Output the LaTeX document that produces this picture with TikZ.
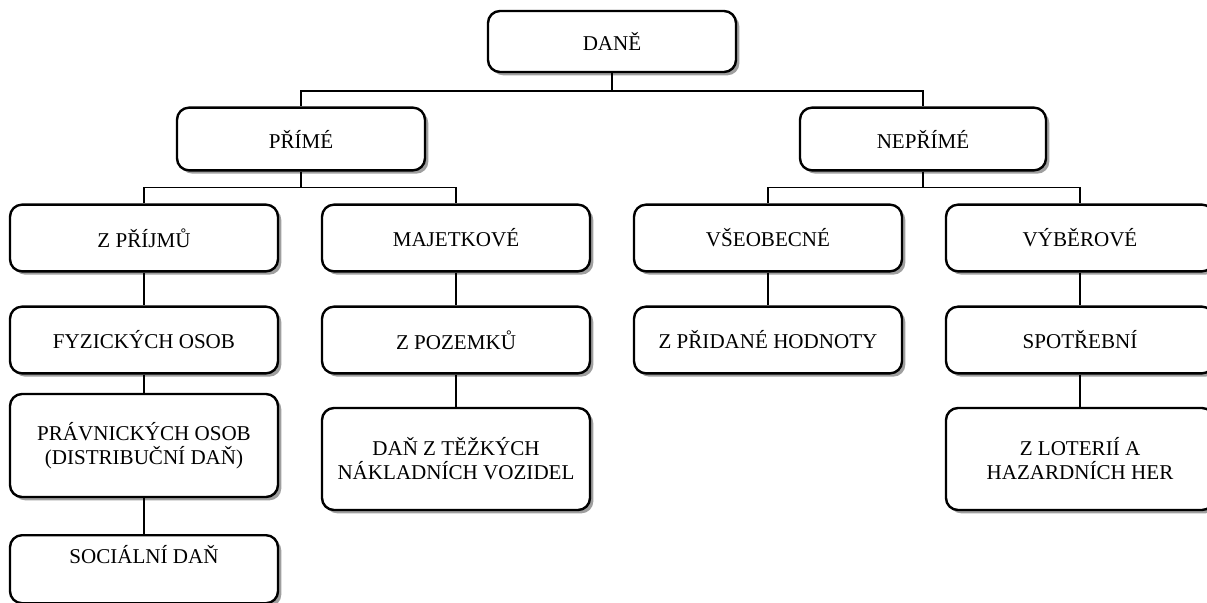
\documentclass[tikz,border=0pt]{standalone}
\usepackage{fontspec}
\setmainfont{Liberation Serif}
\usetikzlibrary{shadows}

\tikzset{
  taxbox/.style={draw, line width=1.8pt, rounded corners=9pt, fill=white,
    drop shadow={shadow xshift=2.5pt, shadow yshift=-2.5pt, fill=gray!75, opacity=1},
    align=center, inner sep=0pt, font=\fontsize{15.8}{18}\selectfont},
  topbox/.style={taxbox, minimum width=186pt, minimum height=47pt},
  lvlbox/.style={taxbox, minimum width=201pt, minimum height=50pt},
  tallbox/.style={taxbox, minimum width=201pt, minimum height=76.5pt},
  link/.style={line width=1.4pt},
}

\begin{document}
\begin{tikzpicture}[x=0.75pt, y=-0.75pt]
\useasboundingbox (0,0) rectangle (1207,603);

% hlavni deleni
\node[topbox, minimum height=45.75pt] (dane) at (612,41.5) {DANĚ};
\node[topbox] (prime) at (301,139) {PŘÍMÉ};
\node[topbox, minimum width=184.5pt] (neprime) at (923,139) {NEPŘÍMÉ};

% treti uroven
\node[lvlbox] (prijmy) at (144,238) {Z PŘÍJMŮ};
\node[lvlbox] (majet) at (456,238) {MAJETKOVÉ};
\node[lvlbox] (vseob) at (768,238) {VŠEOBECNÉ};
\node[lvlbox] (vyber) at (1080,238) {VÝBĚROVÉ};

\node[lvlbox] (fyz) at (144,340) {FYZICKÝCH OSOB};
\node[lvlbox] (pozem) at (456,340) {Z POZEMKŮ};
\node[lvlbox] (dph) at (768,340) {Z PŘIDANÉ HODNOTY};
\node[lvlbox] (spotr) at (1080,340) {SPOTŘEBNÍ};

\node[tallbox, minimum height=77.25pt] (pravn) at (144,445.5) {PRÁVNICKÝCH OSOB\\(DISTRIBUČNÍ DAŇ)};
\node[tallbox] (tezke) at (456,459) {DAŇ Z TĚŽKÝCH\\NÁKLADNÍCH VOZIDEL};
\node[tallbox] (loterie) at (1080,459) {Z LOTERIÍ A\\HAZARDNÍCH HER};
\node[taxbox, minimum width=201pt, text height=21pt, text depth=30pt, anchor=north] (social) at (144,534) {SOCIÁLNÍ DAŇ};

% spojnice
\draw[link] (dane.south) -- ++(0,18) -| (prime.north);
\draw[link] (dane.south) -- ++(0,18) -| (neprime.north);
\draw[link] (prime.south) -- ++(0,16) -| (prijmy.north);
\draw[link] (prime.south) -- ++(0,16) -| (majet.north);
\draw[link] (neprime.south) -- ++(0,16) -| (vseob.north);
\draw[link] (neprime.south) -- ++(0,16) -| (vyber.north);

\draw[link] (prijmy) -- (fyz);
\draw[link] (fyz) -- (pravn);
\draw[link] (pravn) -- (social);
\draw[link] (majet) -- (pozem);
\draw[link] (pozem) -- (tezke);
\draw[link] (vseob) -- (dph);
\draw[link] (vyber) -- (spotr);
\draw[link] (spotr) -- (loterie);
\end{tikzpicture}
\end{document}
